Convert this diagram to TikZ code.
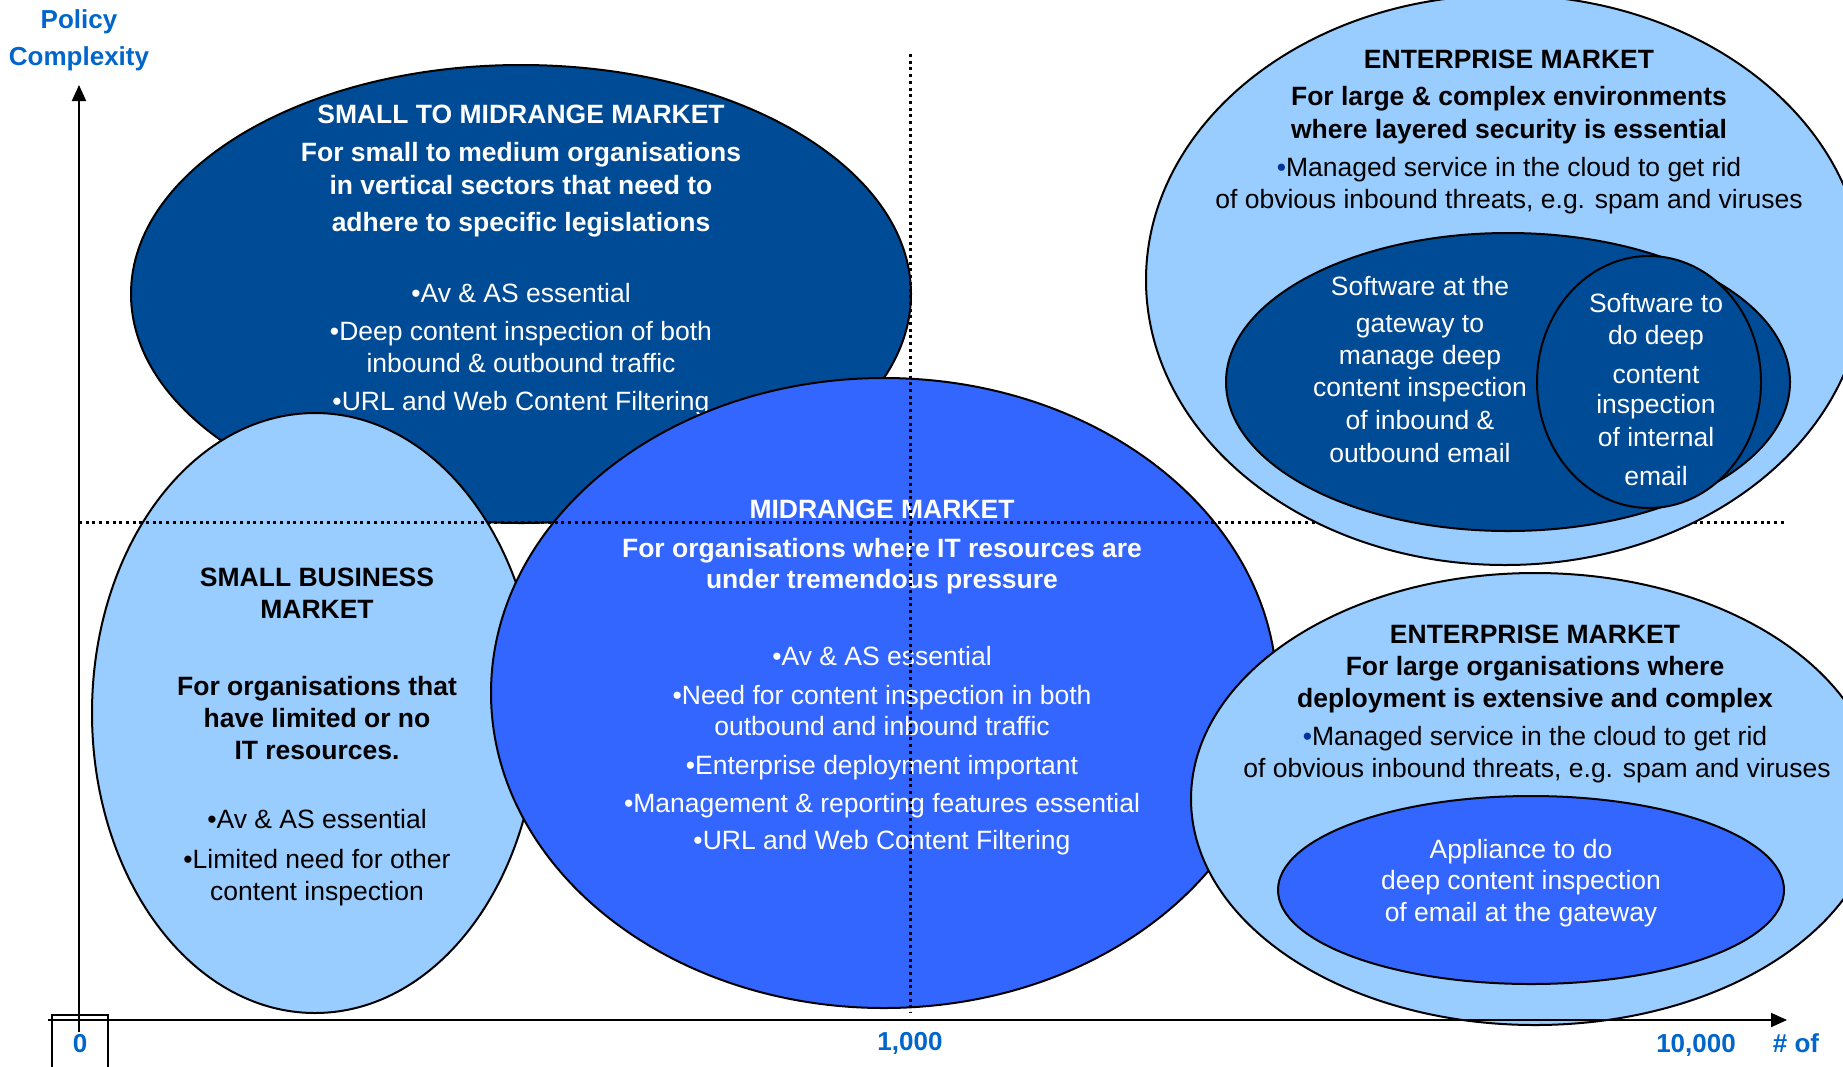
\documentclass[tikz,border=0pt]{standalone}
\usepackage{fontspec}
\setmainfont{Liberation Sans}
\usetikzlibrary{shapes.geometric,arrows.meta}
\definecolor{dkblue}{RGB}{0,75,150}
\definecolor{ltblue}{RGB}{153,204,255}
\definecolor{mdblue}{RGB}{51,102,255}
\definecolor{axblue}{RGB}{0,102,204}
\definecolor{btblue}{RGB}{0,51,153}
\tikzset{
  bubble/.style={ellipse, draw=black, line width=2pt, inner sep=0pt, outer sep=0pt},
  txt/.style={font=\fontsize{26.5}{30}\selectfont, anchor=mid, inner sep=0pt, yshift=-5pt},
  ttl/.style={font=\fontsize{26.5}{30}\selectfont\bfseries, anchor=mid, inner sep=0pt, yshift=-5pt},
  axlbl/.style={font=\fontsize{26}{30}\selectfont\bfseries, text=axblue, anchor=mid, inner sep=0pt, yshift=-5pt},
  dots/.style={line width=3pt, dash pattern=on 3pt off 3.7pt},
  axis/.style={line width=2pt, -{Triangle[length=16pt,width=14pt]}},
}
\begin{document}
\begin{tikzpicture}[x=1pt,y=-1pt]
\useasboundingbox (0,0) rectangle (1843,1066);
\clip (0,0) rectangle (1843,1066);

% small to midrange
\node[bubble, fill=dkblue, minimum width=780pt, minimum height=458pt] (smm) at (521,294) {};
\foreach \t/\yy [count=\i] in {SMALL TO MIDRANGE MARKET/116, For small to medium organisations/154, in vertical sectors that need to/187, adhere to specific legislations/224}
  \node[ttl, text=white] (smmt\i) at (521,\yy) {\t};
\foreach \t/\yy [count=\i] in {•Av \& AS essential/295, •Deep content inspection of both/333, inbound \& outbound traffic/365, •URL and Web Content Filtering/403}
  \node[txt, text=white] (smmb\i) at (521,\yy) {\t};

% small business
\node[bubble, fill=ltblue, minimum width=446pt, minimum height=600pt] (sb) at (315,713) {};
\foreach \t/\yy [count=\i] in {SMALL BUSINESS/579, MARKET/611, For organisations that/688, have limited or no/720, IT resources./752}
  \node[ttl, text=black] (sbt\i) at (317,\yy) {\t};
\foreach \t/\yy [count=\i] in {•Av \& AS essential/821, •Limited need for other/861, content inspection/893}
  \node[txt, text=black] (sbb\i) at (317,\yy) {\t};

% midrange
\node[bubble, fill=mdblue, minimum width=786pt, minimum height=630pt] (mid) at (884,693) {};
\foreach \t/\yy [count=\i] in {MIDRANGE MARKET/511, For organisations where IT resources are/550, under tremendous pressure/581}
  \node[ttl, text=white] (midt\i) at (882,\yy) {\t};
\foreach \t/\yy [count=\i] in {•Av \& AS essential/658, •Need for content inspection in both/697, outbound and inbound traffic/728, •Enterprise deployment important/767, •Management \& reporting features essential/805, •URL and Web Content Filtering/842}
  \node[txt, text=white] (midb\i) at (882,\yy) {\t};

% enterprise bottom
\node[bubble, fill=ltblue, minimum width=688pt, minimum height=452pt] (entb) at (1535,799) {};
\node[bubble, fill=mdblue, minimum width=506pt, minimum height=188pt] (entbin) at (1531,890) {};
\foreach \t/\yy [count=\i] in {ENTERPRISE MARKET/636, For large organisations where/668, deployment is extensive and complex/700}
  \node[ttl, text=black] (entbt\i) at (1535,\yy) {\t};
\node[txt, text=black] (entbb1) at (1535,738) {\textcolor{btblue}{•}Managed service in the cloud to get rid};
\node[txt, text=black] (entbb2) at (1537,770) {of obvious inbound threats, e.g. spam and viruses};
\foreach \t/\yy [count=\i] in {Appliance to do/851, deep content inspection/882, of email at the gateway/914}
  \node[txt, text=white] (entbi\i) at (1521,\yy) {\t};

% quadrant dotted lines
\coordinate (hl) at (79,522);
\coordinate (hr) at (1787,522);
\coordinate (vt) at (910,54);
\coordinate (vb) at (910,1013);
\draw[dots] (hl) -- (hr);
\draw[dots] (vt) -- (vb);

% enterprise top
\node[bubble, fill=ltblue, minimum width=718pt, minimum height=570pt] (entt) at (1505,280) {};
\node[bubble, fill=dkblue, minimum width=564pt, minimum height=298pt] (enttin) at (1508,382) {};
\node[bubble, fill=dkblue, minimum width=224pt, minimum height=252pt] (enttc) at (1649,382) {};
\foreach \t/\yy [count=\i] in {ENTERPRISE MARKET/61, For large \& complex environments/98, where layered security is essential/131}
  \node[ttl, text=black] (enttt\i) at (1509,\yy) {\t};
\node[txt, text=black] (enttb1) at (1509,169) {\textcolor{btblue}{•}Managed service in the cloud to get rid};
\node[txt, text=black] (enttb2) at (1509,201) {of obvious inbound threats, e.g. spam and viruses};
\foreach \t/\yy [count=\i] in {Software at the/288, gateway to/325, manage deep/357, content inspection/389, of inbound \&/422, outbound email/455}
  \node[txt, text=white] (enttl\i) at (1420,\yy) {\t};
\foreach \t/\yy [count=\i] in {Software to/305, do deep/337, content/376, inspection/406, of internal/439, email/478}
  \node[txt, text=white] (enttr\i) at (1656,\yy) {\t};

% axes
\coordinate (yb) at (79,1032);
\coordinate (yt) at (79,85);
\coordinate (xl) at (48,1020);
\coordinate (xr) at (1787,1020);
\draw[axis] (yb) -- (yt);
\draw[axis] (xl) -- (xr);
\coordinate (bxl) at (52,1075);
\coordinate (bxtl) at (52,1015);
\coordinate (bxtr) at (108,1015);
\coordinate (bxr) at (108,1075);
\draw[line width=1.8pt] (bxl) -- (bxtl) -- (bxtr) -- (bxr);

\node[axlbl] (pol) at (79,21) {Policy};
\node[axlbl] (cpx) at (79,58) {Complexity};
\node[axlbl] (zero) at (80,1045) {0};
\node[axlbl] (thou) at (910,1043) {1,000};
\node[axlbl] (tenk) at (1696,1045) {10,000};
\node[axlbl] (numof) at (1796,1045) {\# of};
\end{tikzpicture}
\end{document}
